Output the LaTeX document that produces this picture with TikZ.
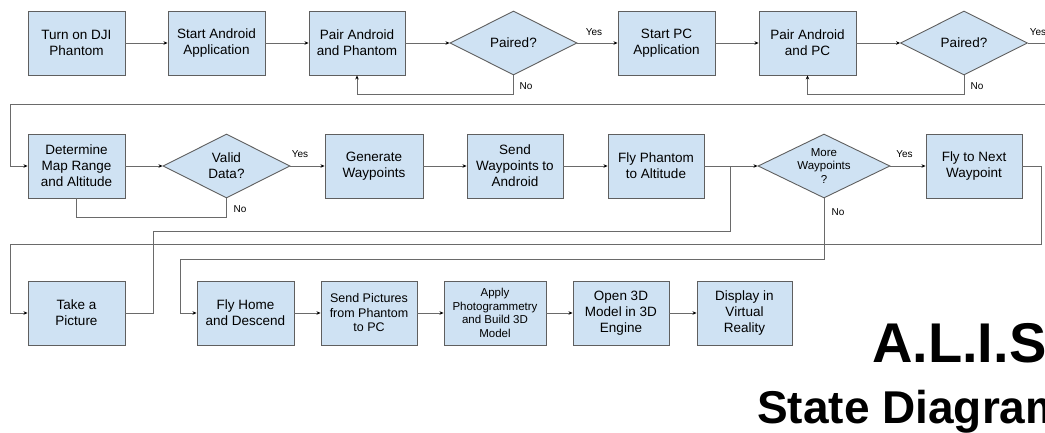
\documentclass[tikz,border=0pt]{standalone}
\usepackage{fontspec}
\setmainfont{Liberation Sans}
\usetikzlibrary{shapes.geometric,arrows.meta}
\definecolor{boxfill}{HTML}{CFE2F3}
\definecolor{boxline}{HTML}{5F5F5F}
\definecolor{wire}{HTML}{6A6A6A}
\tikzset{
  stbox/.style={draw=boxline, fill=boxfill, line width=0.9pt, minimum width=97pt, minimum height=64pt, inner sep=1pt, align=center, font=\fontsize{13.5}{16}\selectfont},
  decide/.style={draw=boxline, fill=boxfill, line width=0.9pt, diamond, aspect=2, minimum width=127pt, minimum height=64pt, inner sep=0pt, align=center, font=\fontsize{13.5}{16}\selectfont},
  wire/.style={draw=wire, line width=0.8pt},
  arr/.style={wire, -{Stealth[length=4pt,width=3.5pt,color=black]}},
  lab/.style={font=\fontsize{10}{12}\selectfont, inner sep=0pt},
  smalltxt/.style={font=\fontsize{11.5}{14}\selectfont}
}
\begin{document}
\begin{tikzpicture}[x=1pt,y=-1pt]
\useasboundingbox (0,0) rectangle (1045,433);
% row 1
\node[stbox] (b1) at (76.5,43) {Turn on DJI\\Phantom};
\node[stbox] (b2) at (216.5,43) {Start Android\\Application};
\node[stbox, minimum width=96pt] (b3) at (357,43) {Pair Android\\and Phantom};
\node[decide] (d1) at (513.5,43) {Paired?};
\node[stbox] (b4) at (666.5,43) {Start PC\\Application};
\node[stbox] (b5) at (807.5,43) {Pair Android\\and PC};
\node[decide] (d2) at (964,43) {Paired?};
% row 2
\node[stbox] (b6) at (76.5,166) {Determine\\Map Range\\and Altitude};
\node[decide] (d3) at (226.5,166) {Valid\\Data?};
\node[stbox, minimum width=98pt] (b7) at (374,166) {Generate\\Waypoints};
\node[stbox, minimum width=96pt] (b8) at (515,166) {Send\\Waypoints to\\Android};
\node[stbox, minimum width=96pt] (b9) at (656,166) {Fly Phantom\\to Altitude};
\node[decide, minimum width=132pt, font=\fontsize{11.5}{13.5}\selectfont] (d4) at (824,166) {More\\Waypoints\\?};
\node[stbox, minimum width=96pt] (b10) at (974,166) {Fly to Next\\Waypoint};
% row 3
\node[stbox] (b11) at (76.5,313) {Take a\\Picture};
\node[stbox] (b12) at (245.5,313) {Fly Home\\and Descend};
\node[stbox, minimum width=96pt, font=\fontsize{12.5}{14.5}\selectfont] (b13) at (369,313) {Send Pictures\\from Phantom\\to PC};
\node[stbox, minimum width=102pt, font=\fontsize{11.5}{13.5}\selectfont] (b14) at (495,313) {Apply\\Photogrammetry\\and Build 3D\\Model};
\node[stbox, minimum width=96pt] (b15) at (621,313) {Open 3D\\Model in 3D\\Engine};
\node[stbox, minimum width=95pt] (b16) at (744.5,313) {Display in\\Virtual\\Reality};
% title
\node[anchor=base west, inner sep=0pt, font=\fontsize{56}{60}\selectfont\bfseries] (t1) at (872,362) {A.L.I.S};
\node[anchor=base west, inner sep=0pt, font=\fontsize{46}{50}\selectfont\bfseries] (t2) at (757,423) {State Diagram};
% row 1 connectors
\draw[arr] (b1) -- (b2);
\draw[arr] (b2) -- (b3);
\draw[arr] (b3) -- (d1);
\draw[arr] (d1) -- (b4);
\draw[arr] (b4) -- (b5);
\draw[arr] (b5) -- (d2);
\draw[arr] (d1.south) -- ++(0,19) -| (b3.south);
\draw[arr] (d2.south) -- ++(0,19) -| (b5.south);
\node[lab] (y1) at (594,32) {Yes};
\node[lab] (n1) at (526,86) {No};
\node[lab] (y2) at (1038,32) {Yes};
\node[lab] (n2) at (977,86) {No};
% wrap row 1 -> row 2
\draw[arr] (d2.east) -- (1070,43) |- (10,104) |- (b6.west);
% row 2 connectors
\draw[arr] (b6) -- (d3);
\draw[arr] (d3) -- (b7);
\draw[arr] (b7) -- (b8);
\draw[arr] (b8) -- (b9);
\draw[arr] (b9) -- (d4);
\draw[arr] (d4) -- (b10);
\draw[wire] (d3.south) -- ++(0,19) -| (b6.south);
\node[lab] (y3) at (300,154) {Yes};
\node[lab] (n3) at (240,209) {No};
\node[lab] (y4) at (904.5,154) {Yes};
\node[lab] (n4) at (838,212) {No};
\coordinate (j1) at (730,166);
\draw[wire] (b11.east) -| (153,231) -| (j1);
\draw[arr] (b10.east) -- (1041,166) -- (1041,244) -- (10,244) |- (b11.west);
\draw[arr] (d4.south) |- (180,259) |- (b12.west);
% row 3 connectors
\draw[arr] (b12) -- (b13);
\draw[arr] (b13) -- (b14);
\draw[arr] (b14) -- (b15);
\draw[arr] (b15) -- (b16);
\end{tikzpicture}
\end{document}
